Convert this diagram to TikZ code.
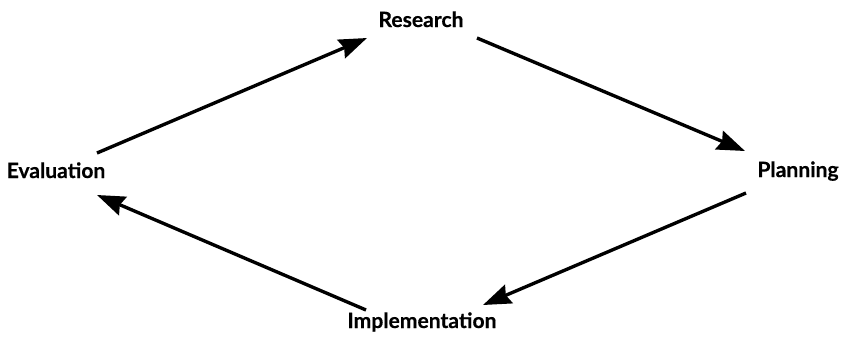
\documentclass[tikz,border=0pt]{standalone}
\usepackage{fontspec}
\setmainfont{Lato}[FakeBold=0.4]
\usetikzlibrary{positioning, arrows.meta}

\begin{document}
\begin{tikzpicture}[x=0.025cm, y=-0.025cm,
    etapa/.style={inner sep=0pt, anchor=base, font=\fontsize{15}{18}\selectfont\bfseries},
    flecha/.style={line width=2.4pt, -{Stealth[length=7mm, width=5mm, inset=0.8mm]}}]
    % Marco del dibujo
    \useasboundingbox (0,0) rectangle (844,338);

    % Etapas del ciclo
    \node[etapa] (re) at (421,27) {Research};
    \node[etapa] (pl) at (798,177) {Planning};
    \node[etapa] (im) at (422,328) {Implementation};
    \node[etapa] (ev) at (56,178) {Evaluation};

    % Flechas entre etapas
    \draw[flecha] ([shift={(41,-25)}]ev.base) -- ([shift={(-54,11)}]re.base);
    \draw[flecha] ([shift={(56,11)}]re.base) -- ([shift={(-53,-26)}]pl.base);
    \draw[flecha] ([shift={(-52,16)}]pl.base) -- ([shift={(61,-23)}]im.base);
    \draw[flecha] ([shift={(-56,-18)}]im.base) -- ([shift={(41,17)}]ev.base);
\end{tikzpicture}
\end{document}
